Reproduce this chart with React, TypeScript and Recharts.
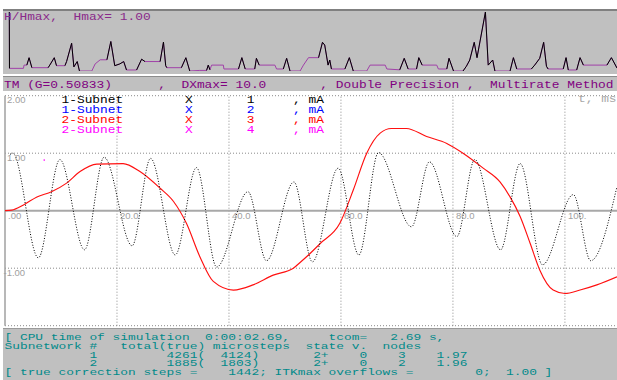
import React from "react";
import { LineChart, Line, XAxis, YAxis, ReferenceLine, ReferenceDot } from "recharts";

// time axis (ms) shared by both plots
const T_MAX = 109.3;

// 1-Subnet X 1, mA (black)
const blackT = [0.9, 1.4, 5.95, 9.8, 14.2, 17.7, 22.7, 26.0, 30.4, 34.2, 37.8, 43.4, 46.7, 51.6, 54.9, 59.5, 63.2, 66.7, 72.6, 75.8, 80.7, 83.9, 88.5, 92.0, 96.0, 101.5, 104.6, 109.3];
const blackY = [0.98, 1.0, -0.82, 0.89, -0.68, 0.93, -0.61, 0.91, -0.77, 0.75, -0.98, 0.33, -0.87, 0.5, -0.89, 0.74, -0.77, 1.01, -0.28, 0.85, -0.45, 0.89, -0.68, 0.82, -0.94, 0.28, -0.87, 0.42];

// 2-Subnet X 3, mA (red)
const redT = [0, 1.2, 3.3, 5.7, 8.3, 11.0, 13.4, 16.4, 21.1, 24.1, 27.7, 30.1, 32.4, 34.8, 37.2, 40.8, 44.3, 47.9, 51.5, 52.7, 54.2, 56.3, 59.8, 62.2, 64.6, 67.0, 69.0, 71.7, 75.3, 78.9, 81.8, 85.4, 88.4, 90.2, 92.0, 93.8, 95.5, 97.9, 100.0, 102.7, 105.7, 109.3];
const redY = [0, 0.01, 0.1, 0.24, 0.33, 0.48, 0.68, 0.81, 0.82, 0.68, 0.39, 0.16, -0.22, -0.8, -1.23, -1.38, -1.29, -1.12, -1.0, -0.9, -0.77, -0.57, -0.22, 0.36, 1.0, 1.35, 1.43, 1.43, 1.29, 1.17, 1.0, 0.74, 0.5, 0.24, -0.1, -0.57, -1.03, -1.38, -1.44, -1.38, -1.29, -1.15];

// 2-Subnet X 4 (magenta), a single visible sample
const magentaT = [7.0];
const magentaY = [0.88];

// H/Hmax step size trace
const hT = [0.77, 0.8, 3.3, 3.4, 3.9, 4.3, 4.8, 7.7, 8.0, 8.8, 9.2, 10.7, 11.0, 11.9, 12.3, 12.9, 13.3, 15.5, 16.1, 17.0, 18.2, 18.9, 19.6, 20.5, 21.2, 21.7, 23.5, 24.4, 25.0, 27.7, 28.3, 28.7, 28.9, 31.5, 32.3, 33.0, 34.8, 36.0, 36.3, 36.6, 36.9, 39.0, 39.1, 41.7, 42.3, 42.9, 44.6, 44.9, 45.4, 48.2, 48.5, 49.7, 50.3, 50.9, 52.7, 53.3, 54.2, 56.0, 56.7, 57.1, 57.7, 58.0, 58.3, 60.7, 61.5, 62.2, 64.6, 65.2, 67.9, 68.2, 70.5, 71.3, 72.0, 73.5, 73.9, 74.5, 77.1, 77.4, 78.9, 79.3, 80.1, 81.8, 82.4, 83.0, 83.8, 84.3, 85.8, 86.3, 87.1, 87.5, 90.2, 90.8, 91.4, 94.0, 94.6, 95.5, 96.2, 96.7, 97.0, 99.7, 100.2, 100.6, 102.1, 102.7, 103.3, 107.5, 108.3, 109.3];
const hV = [1.0, 0.045, 0.045, 0.1, 0.1, 0.225, 0.056, 0.056, 0.1, 0.225, 0.09, 0.09, 0.16, 0.47, 0.07, 0.16, 0.0, 0.0, 0.12, 0.19, 0.19, 0.5, 0.09, 0.12, 0.16, 0.017, 0.017, 0.2, 0.16, 0.16, 0.49, 0.09, 0.056, 0.056, 0.225, 0.0, 0.01, 0.01, 0.1, 0.02, 0.1, 0.1, 0.034, 0.034, 0.226, 0.034, 0.034, 0.215, 0.1, 0.1, 0.034, 0.034, 0.215, 0.0, 0.0, 0.1, 0.226, 0.226, 0.486, 0.44, 0.1, 0.186, 0.034, 0.034, 0.226, 0.0, 0.0, 0.1, 0.1, 0.034, 0.02, 0.215, 0.034, 0.034, 0.226, 0.1, 0.1, 0.034, 0.034, 0.215, 0.0, 0.0, 0.08, 0.186, 0.486, 0.226, 1.0, 0.1, 0.186, 0.0, 0.0, 0.226, 0.034, 0.034, 0.1, 0.215, 0.486, 0.08, 0.034, 0.034, 0.226, 0.017, 0.017, 0.226, 0.1, 0.1, 0.226, 0.05];

const xTicks = [0, 20, 40, 60, 80, 100];
const xTickLabels = [".00", "20.0", "40.0", "60.0", "80.0", "100."];
const yTicks = [2, 1, -1];
const yTickLabels = ["2.00", "1.00", "-1.00"];
const gridY = [2, 1, -1, -2];

const legendNames = ["1-Subnet", "1-Subnet", "2-Subnet", "2-Subnet"];
const legendNodes = ["1", "2", "3", "4"];
const legendColors = ["#000000", "#0000ff", "#ff0000", "#ff00ff"];

const headerText = "TM (G=0.50833)      ,  DXmax= 10.0       , Double Precision ,  Multirate Method";
const hTitle = "H/Hmax,  Hmax= 1.00";
const statusLines = [
  "[ CPU time of simulation  0:00:02.69,     tcom=   2.69 s,",
  "Subnetwork #   total(true) microsteps  state v.  nodes",
  "           1         4261(  4124)       2+    0    3    1.97",
  "           2         1885(  1803)       2+    0    2    1.96",
  "[ true correction steps =    1442; ITKmax overflows =        0;  1.00 ]",
];

const MONO = '"Liberation Mono", "DejaVu Sans Mono", monospace';
const SANS = '"Liberation Sans", Arial, sans-serif';
const ADVANCE = 7.72;

const pts = (ts: number[], vs: number[]) => ts.map((t, i) => ({ t, v: vs[i] }));

// black flanks of the H trace: every local peak together with its falling sides
function spikes(ts: number[], vs: number[]) {
  const out: { t: number; v: number | null }[] = [];
  for (let i = 0; i < vs.length; i++) {
    const prev = i > 0 ? vs[i - 1] : -Infinity;
    const next = i < vs.length - 1 ? vs[i + 1] : -Infinity;
    if (vs[i] > prev && vs[i] > next) {
      let a = i;
      while (a > 0 && vs[a - 1] < vs[a]) a--;
      let b = i;
      while (b < vs.length - 1 && vs[b + 1] < vs[b]) b++;
      for (let k = a; k <= b; k++) out.push({ t: ts[k], v: vs[k] });
      out.push({ t: ts[b], v: null });
    }
  }
  return out;
}

const blackData = pts(blackT, blackY);
const redData = pts(redT, redY);
const magentaData = pts(magentaT, magentaY);
const hData = pts(hT, hV);
const hSpikes = spikes(hT, hV);

// wide old-style fixed pitch text: Liberation Mono stretched to the screen's pitch
function Mono({ x, y, color, text, size = 10 }: { x: number; y: number; color: string; text: string; size?: number }) {
  return (
    <text
      transform={`translate(${x},${y}) scale(${ADVANCE / (0.6 * size)},1)`}
      fill={color}
      fontFamily={MONO}
      fontSize={size}
      xmlSpace="preserve"
      style={{ whiteSpace: "pre" }}
    >
      {text}
    </text>
  );
}

const tickShape = (text: string, dx: number, dy: number) => (p: any) => (
  <text x={p.cx + dx} y={p.cy + dy} fill="#a0a0a0" fontFamily={SANS} fontSize={9.5}>
    {text}
  </text>
);

export default function App() {
  return (
    <div style={{ position: "absolute", left: 0, top: 0, width: 617, height: 380, background: "#fff", overflow: "hidden" }}>
      {/* panels */}
      <div style={{ position: "absolute", left: 3, top: 9, width: 614, height: 65, background: "#c0c0c0", borderTop: "2px solid #808080", boxSizing: "border-box" }} />
      <div style={{ position: "absolute", left: 3, top: 76, width: 614, height: 15, background: "#c0c0c0", borderTop: "1px solid #8c8c8c", boxSizing: "border-box" }} />
      <div style={{ position: "absolute", left: 3, top: 328, width: 614, height: 52, background: "#c0c0c0", borderTop: "1px solid #9a9a9a", boxSizing: "border-box" }} />

      {/* H/Hmax */}
      <div style={{ position: "absolute", left: 0, top: 9 }}>
        <LineChart width={617} height={65} margin={{ top: 3, right: 0, bottom: 3, left: 5 }}>
          <XAxis dataKey="t" type="number" domain={[0, T_MAX]} hide allowDataOverflow />
          <YAxis type="number" domain={[0, 1]} hide allowDataOverflow />
          <Line data={hData} dataKey="v" type="linear" stroke="#a040a8" strokeWidth={1} dot={false} isAnimationActive={false} />
          <Line data={hSpikes} dataKey="v" type="linear" stroke="#000000" strokeWidth={1} dot={false} connectNulls={false} isAnimationActive={false} />
        </LineChart>
      </div>

      {/* currents */}
      <div style={{ position: "absolute", left: 0, top: 91 }}>
        <LineChart width={617} height={238} margin={{ top: 4.7, right: 0, bottom: 3.3, left: 5 }}>
          <XAxis dataKey="t" type="number" domain={[0, T_MAX]} hide allowDataOverflow />
          <YAxis type="number" domain={[-2, 2]} hide allowDataOverflow />
          {gridY.map((v) => (
            <ReferenceLine key={`gy${v}`} y={v} stroke="#8a8a8a" strokeDasharray="1 2" />
          ))}
          {xTicks.slice(1).map((v) => (
            <ReferenceLine key={`gx${v}`} x={v} stroke="#8a8a8a" strokeDasharray="1 2" />
          ))}
          <ReferenceLine y={0} stroke="#a8a8a8" strokeWidth={2} />
          <ReferenceLine x={0} stroke="#a0a0a0" strokeWidth={1.5} />
          <Line data={redData} dataKey="v" type="monotone" stroke="#ff1010" strokeWidth={1.15} dot={false} isAnimationActive={false} />
          <Line data={blackData} dataKey="v" type="monotone" stroke="#000000" strokeWidth={1} strokeDasharray="1 1.7" dot={false} isAnimationActive={false} />
          <Line data={magentaData} dataKey="v" stroke="#ff00ff" dot={{ r: 0.8, fill: "#ff00ff", stroke: "none" }} isAnimationActive={false} />
          {xTicks.map((v, i) => (
            <ReferenceDot key={`xl${v}`} x={v} y={0} r={1} shape={tickShape(xTickLabels[i], 3, 8)} />
          ))}
          {yTicks.map((v, i) => (
            <ReferenceDot key={`yl${v}`} x={0} y={v} r={1} shape={tickShape(yTickLabels[i], v < 0 ? -1.5 : 2, 7.5)} />
          ))}
        </LineChart>
      </div>

      {/* texts */}
      <svg width={617} height={380} style={{ position: "absolute", left: 0, top: 0, pointerEvents: "none" }}>
        <Mono x={4} y={20} color="#8a2a8a" text={hTitle} />
        <Mono x={4} y={88} color="#800080" text={headerText} size={10.5} />
        {legendNames.map((name, i) => (
          <Mono
            key={i}
            x={61.5}
            y={102.5 + i * 10}
            color={legendColors[i]}
            text={`${name}        X       ${legendNodes[i]}     , mA`}
          />
        ))}
        <Mono x={578} y={102} color="#a8a8a8" text="t, ms" />
        {statusLines.map((line, i) => (
          <Mono key={i} x={4.5} y={340 + i * 8.75} color="#008a8a" text={line} size={9.6} />
        ))}
      </svg>
    </div>
  );
}
